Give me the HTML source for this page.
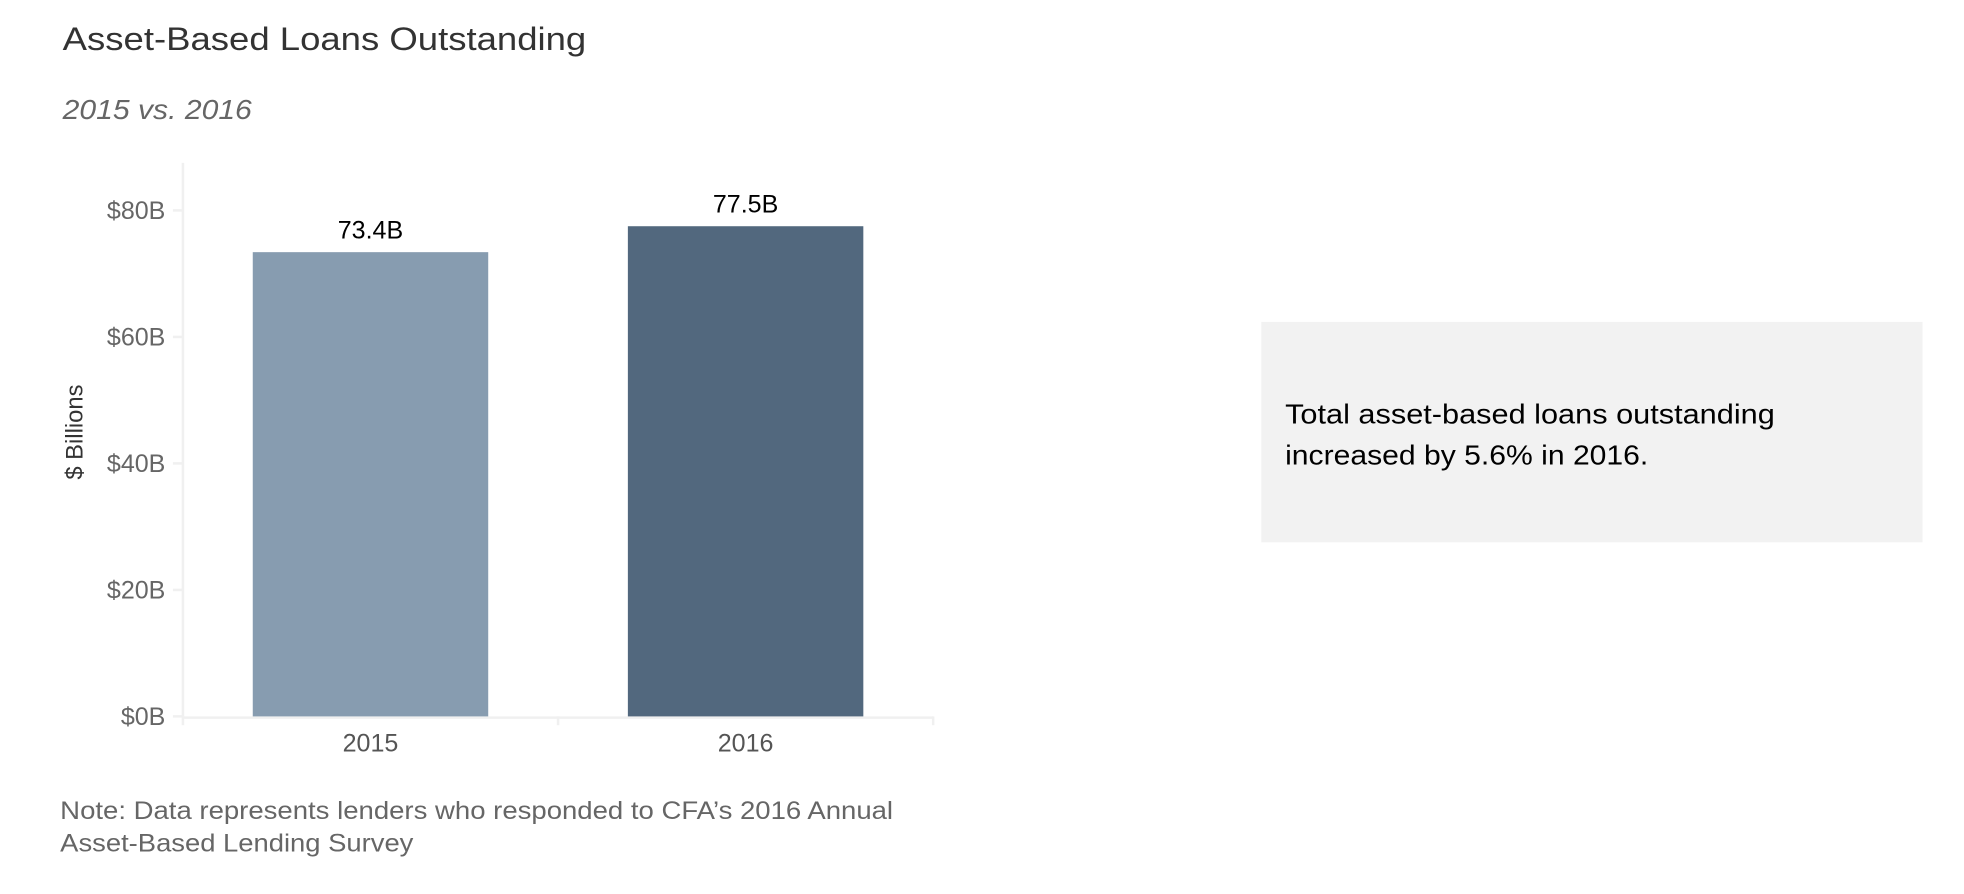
<!DOCTYPE html>
<html><head><meta charset="utf-8"><style>html,body{margin:0;padding:0;background:#fff;}svg{display:block;}</style></head>
<body>
<svg id="chart" width="1964" height="894" viewBox="0 0 1568 713.8" xmlns="http://www.w3.org/2000/svg" font-family="Liberation Sans, sans-serif">
<text x="50" y="40" font-size="26" fill="#333" textLength="418" lengthAdjust="spacingAndGlyphs">Asset-Based Loans Outstanding</text>
<text x="50" y="95" font-size="22" font-style="italic" fill="#666" textLength="151" lengthAdjust="spacingAndGlyphs">2015 vs. 2016</text>
<g id="plot"></g>
<text transform="translate(66,345) rotate(-90)" text-anchor="middle" font-size="19" fill="#333">$ Billions</text>
<rect x="1007" y="257" width="528" height="176" fill="#f2f2f2"/>
<text font-size="22" fill="#000">
<tspan x="1026" y="338" textLength="391" lengthAdjust="spacingAndGlyphs">Total asset-based loans outstanding</tspan>
<tspan x="1026" y="371" textLength="290" lengthAdjust="spacingAndGlyphs">increased by 5.6% in 2016.</tspan>
</text>
<text font-size="20" fill="#666">
<tspan x="48" y="654" textLength="665" lengthAdjust="spacingAndGlyphs">Note: Data represents lenders who responded to CFA’s 2016 Annual</tspan>
<tspan x="48" y="680" textLength="282" lengthAdjust="spacingAndGlyphs">Asset-Based Lending Survey</tspan>
</text>
</svg>
<script>
const categories = ["2015", "2016"];
const values = [73.4, 77.5];
const valueLabels = ["73.4B", "77.5B"];
const yTicks = [0, 20, 40, 60, 80];
const yTickLabels = ["$0B", "$20B", "$40B", "$60B", "$80B"];
const barColors = ["#879cb0", "#52687e"];

const NS = "http://www.w3.org/2000/svg";
const g = document.getElementById("plot");
const x0 = 146, x1 = 745, yZero = 572, pxPerUnit = 5.05;
const y = v => yZero - v * pxPerUnit;
const band = (x1 - x0) / categories.length;
const bw = 188;
function mk(tag, attrs) { const e = document.createElementNS(NS, tag); for (const k in attrs) e.setAttribute(k, attrs[k]); g.appendChild(e); return e; }

const yl = mk("line", {x1: x0, y1: 130, x2: x0, y2: yZero, stroke: "#f0f0f0", "stroke-width": 2});


const xl = mk("line", {x1: x0, y1: yZero + 1, x2: x1, y2: yZero + 1, stroke: "#f0f0f0", "stroke-width": 2});



yTicks.forEach((t, i) => {
  const tk = mk("line", {x1: x0 - 8, y1: y(t), x2: x0, y2: y(t), stroke: "#f0f0f0", "stroke-width": 2});
  
  
  const lb = mk("text", {x: 132, y: y(t) + 7, "text-anchor": "end", "font-size": 20, fill: "#666"});
  lb.textContent = yTickLabels[i];
  
  
});

for (let i = 0; i <= categories.length; i++) {
  const tk = mk("line", {x1: x0 + band * i, y1: yZero, x2: x0 + band * i, y2: yZero + 7, stroke: "#f0f0f0", "stroke-width": 2});
  
  
}

categories.forEach((c, i) => {
  const cx = x0 + band * (i + 0.5);
  const r = mk("rect", {x: cx - bw / 2, y: y(values[i]), width: bw, height: yZero - y(values[i]), fill: barColors[i]});
  
  
  const vl = mk("text", {x: cx, y: y(values[i]) - 11, "text-anchor": "middle", "font-size": 20, fill: "#000"});
  vl.textContent = valueLabels[i];
  
  
  const xl2 = mk("text", {x: cx, y: 600, "text-anchor": "middle", "font-size": 20, fill: "#555"});
  xl2.textContent = c;
  
  
});
</script>
</body></html>
